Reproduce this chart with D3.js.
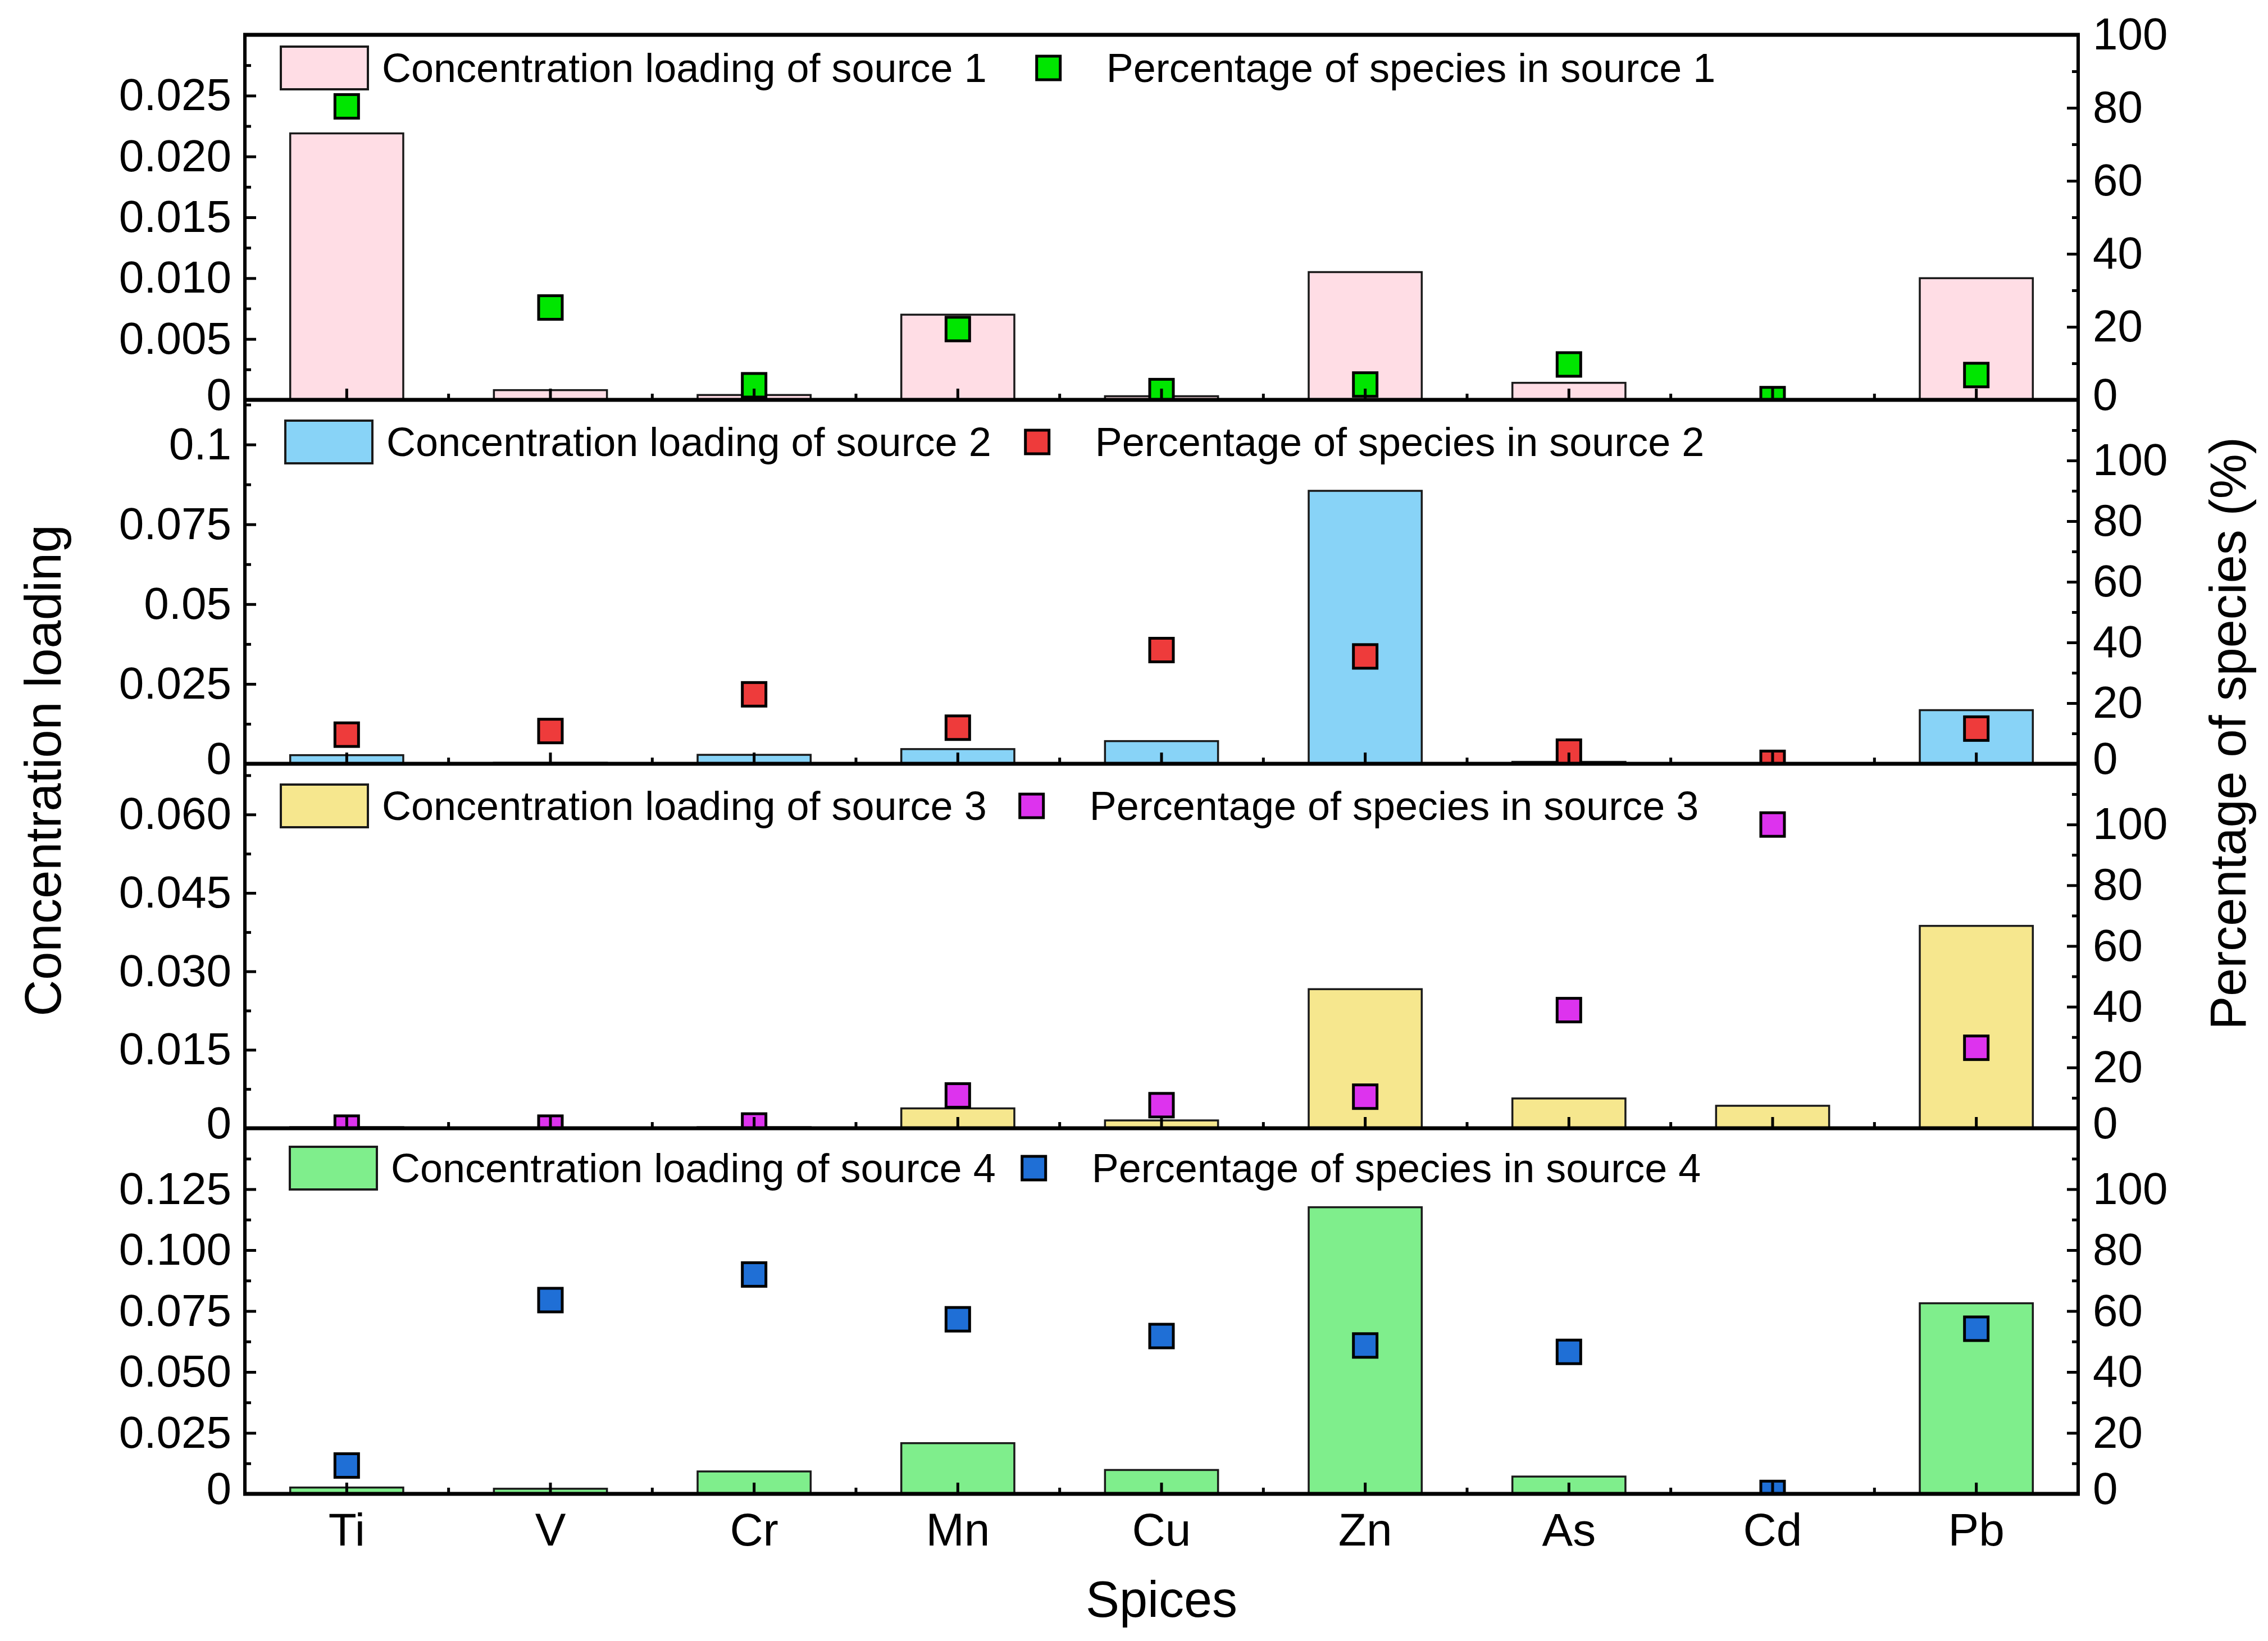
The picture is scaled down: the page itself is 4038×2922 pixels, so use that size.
<!DOCTYPE html>
<html>
<head>
<meta charset="utf-8">
<script src="https://cdn.jsdelivr.net/npm/d3@7"></script>
<style>
  body { margin: 0; background: #fff; }
  text { font-family: "Liberation Sans", Arial, sans-serif; fill: #000; }
</style>
</head>
<body>
<svg id="chart" width="4038" height="2922"></svg>
<script>
// ---- data ----
const species = ['Ti', 'V', 'Cr', 'Mn', 'Cu', 'Zn', 'As', 'Cd', 'Pb'];

// concentration loading (left axis, bars)
const loading1 = [0.0219, 0.0008, 0.0004, 0.0070, 0.0003, 0.0105, 0.0014, 0.0000, 0.0100];
const loading2 = [0.0027, 0.0003, 0.0028, 0.0046, 0.0071, 0.0855, 0.0006, 0.0001, 0.0168];
const loading3 = [0.0002, 0.0001, 0.0002, 0.0038, 0.0015, 0.0266, 0.0057, 0.0043, 0.0387];
const loading4 = [0.0026, 0.0021, 0.0092, 0.0208, 0.0098, 0.1176, 0.0071, 0.0000, 0.0782];

// percentage of species in source (right axis, squares)
const percent1 = [80.4, 25.3, 4.0, 19.4, 2.4, 4.2, 9.7, 0.2, 6.8];
const percent2 = [9.6, 10.8, 22.9, 11.9, 37.5, 35.4, 4.0, 0.3, 11.6];
const percent3 = [0.2, 0.2, 0.9, 10.8, 7.6, 10.4, 38.9, 100.0, 26.5];
const percent4 = [9.3, 63.6, 72.0, 57.3, 51.8, 48.7, 46.6, 0.3, 54.2];

// axis ranges and tick labels
const leftMax = [0.03, 0.114, 0.0697, 0.15];
const rightMax = [100, 120, 120, 120];
const leftTicks1 = [0, 0.005, 0.010, 0.015, 0.020, 0.025];
const leftLabels1 = ['0', '0.005', '0.010', '0.015', '0.020', '0.025'];
const leftTicks2 = [0, 0.025, 0.05, 0.075, 0.1];
const leftLabels2 = ['0', '0.025', '0.05', '0.075', '0.1'];
const leftTicks3 = [0, 0.015, 0.030, 0.045, 0.060];
const leftLabels3 = ['0', '0.015', '0.030', '0.045', '0.060'];
const leftTicks4 = [0, 0.025, 0.050, 0.075, 0.100, 0.125];
const leftLabels4 = ['0', '0.025', '0.050', '0.075', '0.100', '0.125'];
const rightTicks = [0, 20, 40, 60, 80, 100];

const barLabels = ['Concentration loading of source 1', 'Concentration loading of source 2',
                   'Concentration loading of source 3', 'Concentration loading of source 4'];
const pointLabels = ['Percentage of species in source 1', 'Percentage of species in source 2',
                     'Percentage of species in source 3', 'Percentage of species in source 4'];

// ---- styles / layout ----
const barColors = ['#ffdde5', '#88d3f7', '#f6e78e', '#7fee8c'];
const markColors = ['#00e600', '#ee3b3b', '#dd33ee', '#1f6fd6'];
const left = 436, right = 3700;
const tops = [62, 712, 1360, 2009];
const bottoms = [712, 1360, 2009, 2660];
const legendDx = [64, 72, 64, 80];
const legendDy = [59, 75, 75, 71];
const legendGap = [110, 82, 80, 68];

const panels = [
  { loading: loading1, percent: percent1, ticks: leftTicks1, labels: leftLabels1 },
  { loading: loading2, percent: percent2, ticks: leftTicks2, labels: leftLabels2 },
  { loading: loading3, percent: percent3, ticks: leftTicks3, labels: leftLabels3 },
  { loading: loading4, percent: percent4, ticks: leftTicks4, labels: leftLabels4 }
];

const svg = d3.select('#chart');
svg.append('rect').attr('width', 4038).attr('height', 2922).attr('fill', '#fff');

const x = d3.scaleBand().domain(species).range([left, right]).padding(0);
const barW = x.bandwidth() * 0.555;
const mSize = 42;

function styleAxis(g, size) {
  g.select('.domain').remove();
  g.selectAll('.tick line').attr('stroke', '#000').attr('stroke-width', 5);
  g.selectAll('.tick text').attr('font-size', size)
    .attr('font-family', '"Liberation Sans", Arial, sans-serif').attr('fill', '#000');
}

panels.forEach((p, i) => {
  const yL = d3.scaleLinear().domain([0, leftMax[i]]).range([bottoms[i], tops[i]]);
  const yR = d3.scaleLinear().domain([0, rightMax[i]]).range([bottoms[i], tops[i]]);
  const g = svg.append('g');

  svg.append('clipPath').attr('id', 'clip' + i)
    .append('rect').attr('x', left).attr('y', tops[i])
    .attr('width', right - left).attr('height', bottoms[i] - tops[i] + 3);

  // bars
  g.selectAll('rect.bar')
    .data(species)
    .enter()
    .append('rect')
    .attr('class', 'bar')
    .attr('x', (d) => x(d) + (x.bandwidth() - barW) / 2)
    .attr('y', (d, j) => yL(p.loading[j]))
    .attr('width', barW)
    .attr('height', (d, j) => bottoms[i] - yL(p.loading[j]))
    .attr('fill', barColors[i])
    .attr('stroke', '#1a1a1a')
    .attr('stroke-width', 3.5);

  // squares
  g.append('g').attr('clip-path', 'url(#clip' + i + ')')
    .selectAll('rect')
    .data(species)
    .enter()
    .append('rect')
    .attr('x', (d) => x(d) + x.bandwidth() / 2 - mSize / 2)
    .attr('y', (d, j) => yR(p.percent[j]) - mSize / 2)
    .attr('width', mSize)
    .attr('height', mSize)
    .attr('fill', markColors[i])
    .attr('stroke', '#000')
    .attr('stroke-width', 5);

  // left axis, major + minor
  const stepL = p.ticks[1] - p.ticks[0];
  g.append('g').attr('transform', `translate(${left},0)`)
    .call(d3.axisLeft(yL).tickValues(d3.range(stepL / 2, leftMax[i], stepL)).tickSize(-11).tickFormat(''))
    .call((a) => styleAxis(a, 80));
  const la = g.append('g').attr('transform', `translate(${left},0)`)
    .call(d3.axisLeft(yL).tickValues(p.ticks).tickSize(-20).tickPadding(24)
      .tickFormat((d, j) => p.labels[j]))
    .call((a) => styleAxis(a, 80));
  // zero label sits right on the panel seam, lift it a touch
  la.selectAll('.tick text').filter((d) => d === 0).attr('dy', '0.22em');

  // right axis
  g.append('g').attr('transform', `translate(${right},0)`)
    .call(d3.axisRight(yR).tickValues(d3.range(10, rightMax[i], 20)).tickSize(-11).tickFormat(''))
    .call((a) => styleAxis(a, 80));
  const ra = g.append('g').attr('transform', `translate(${right},0)`)
    .call(d3.axisRight(yR).tickValues(rightTicks).tickSize(-20).tickPadding(26))
    .call((a) => styleAxis(a, 80));
  ra.selectAll('.tick text').filter((d) => d === 0).attr('dy', '0.22em');

  // bottom axis: centres major, boundaries minor
  const xb = g.append('g').attr('transform', `translate(0,${bottoms[i]})`)
    .call(d3.axisBottom(x).tickSize(-20).tickPadding(34).tickFormat(i === 3 ? null : ''))
    .call((a) => styleAxis(a, 82));
  xb.selectAll('.tick text').attr('dy', '0.71em');
  const bounds = species.slice(1).map((s) => x(s));
  g.append('g').selectAll('line')
    .data(bounds)
    .enter()
    .append('line')
    .attr('x1', (d) => d).attr('x2', (d) => d)
    .attr('y1', bottoms[i]).attr('y2', bottoms[i] - 11)
    .attr('stroke', '#000').attr('stroke-width', 5);

  // panel bottom line
  g.append('line')
    .attr('x1', left - 3).attr('x2', right + 3)
    .attr('y1', bottoms[i]).attr('y2', bottoms[i])
    .attr('stroke', '#000').attr('stroke-width', 7);

  // legend
  const lx = left + legendDx[i], ly = tops[i] + legendDy[i];
  g.append('rect')
    .attr('x', lx).attr('y', ly - 38).attr('width', 155).attr('height', 76)
    .attr('fill', barColors[i]).attr('stroke', '#1a1a1a').attr('stroke-width', 4);
  const t1 = g.append('text')
    .attr('x', lx + 180).attr('y', ly + 25)
    .attr('font-size', 72)
    .text(barLabels[i]);
  const mx = lx + 180 + t1.node().getComputedTextLength() + legendGap[i];
  g.append('rect')
    .attr('x', mx - mSize / 2).attr('y', ly - mSize / 2)
    .attr('width', mSize).attr('height', mSize)
    .attr('fill', markColors[i]).attr('stroke', '#000').attr('stroke-width', 5);
  g.append('text')
    .attr('x', mx + 103).attr('y', ly + 25)
    .attr('font-size', 72)
    .text(pointLabels[i]);
});

// frame: top, left and right lines
svg.append('line').attr('x1', left - 3).attr('x2', right + 3).attr('y1', tops[0]).attr('y2', tops[0])
  .attr('stroke', '#000').attr('stroke-width', 7);
svg.append('line').attr('x1', left).attr('x2', left).attr('y1', tops[0]).attr('y2', bottoms[3] + 3)
  .attr('stroke', '#000').attr('stroke-width', 6);
svg.append('line').attr('x1', right).attr('x2', right).attr('y1', tops[0]).attr('y2', bottoms[3] + 3)
  .attr('stroke', '#000').attr('stroke-width', 6);

// axis titles
svg.append('text')
  .attr('transform', 'translate(108,1372) rotate(-90)')
  .attr('text-anchor', 'middle')
  .attr('font-size', 90)
  .text('Concentration loading');
svg.append('text')
  .attr('transform', 'translate(3998,1306) rotate(-90)')
  .attr('text-anchor', 'middle')
  .attr('font-size', 90)
  .text('Percentage of species (%)');
svg.append('text')
  .attr('x', (left + right) / 2).attr('y', 2879)
  .attr('text-anchor', 'middle')
  .attr('font-size', 90)
  .text('Spices');
</script>
</body>
</html>
